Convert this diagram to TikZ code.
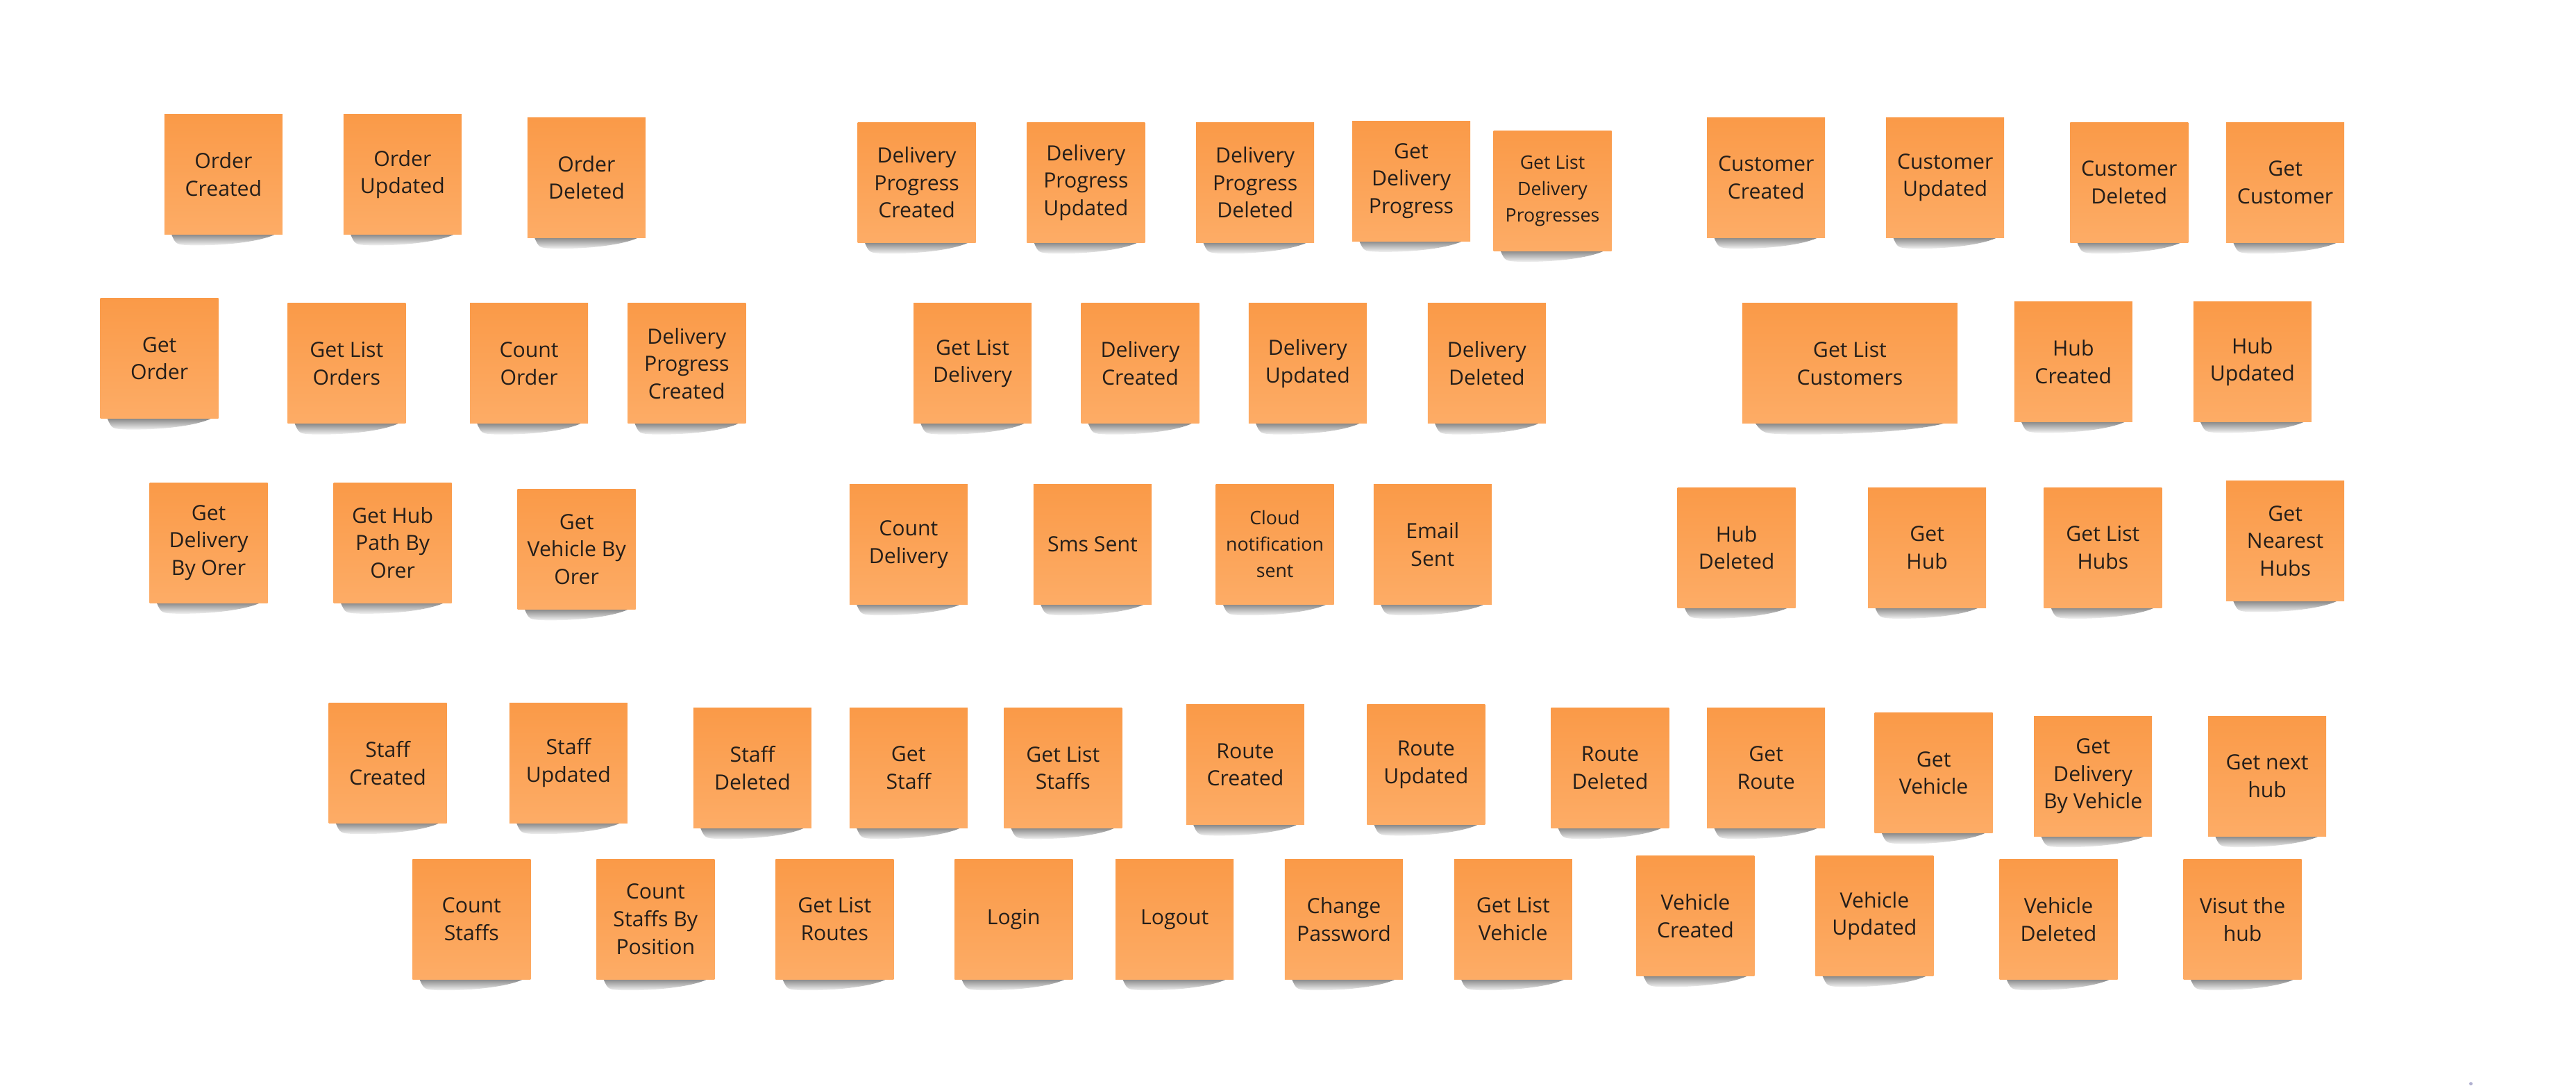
\documentclass[tikz,border=0pt]{standalone}
\usepackage{fontspec}
\setmainfont{Open Sans}
\usetikzlibrary{backgrounds,calc}
\definecolor{notefill}{RGB}{250,154,72}
\definecolor{notelight}{RGB}{253,172,102}
\definecolor{notetext}{RGB}{36,30,26}
\definecolor{dotcol}{RGB}{176,176,208}
\tikzset{
  sticky/.style={minimum width=1.70cm, minimum height=1.73cm, inner sep=0pt,
    align=center, text=notetext, top color=notefill, bottom color=notelight,
    font=\fontsize{8.6}{11.3}\selectfont},
  widesticky/.style={sticky, minimum width=3.10cm},
  smalltext/.style={font=\fontsize{7.6}{10.8}\selectfont},
  noteshadow/.style={top color=black!50, bottom color=black!3},
}
\begin{document}
\begin{tikzpicture}[x=0.023667cm, y=-0.023682cm]
\useasboundingbox (0,0) rectangle (1568,660);

% --- row 1 ---
\node[sticky] (ordc) at (136,106) {Order\\Created};
\node[sticky] (ordu) at (245,106) {Order\\Updated};
\node[sticky] (ordd) at (357,108) {Order\\Deleted};
\node[sticky] (dpc)  at (558,111) {Delivery\\Progress\\Created};
\node[sticky] (dpu)  at (661,111) {Delivery\\Progress\\Updated};
\node[sticky] (dpd)  at (764,111) {Delivery\\Progress\\Deleted};
\node[sticky] (gdp)  at (859,110) {Get\\Delivery\\Progress};
\node[sticky,smalltext] (gldp) at (945,116) {Get List\\Delivery\\Progresses};
\node[sticky] (cusc) at (1075,108) {Customer\\Created};
\node[sticky] (cusu) at (1184,108) {Customer\\Updated};
\node[sticky] (cusd) at (1296,111) {Customer\\Deleted};
\node[sticky] (gcus) at (1391,111) {Get\\Customer};

% --- row 2 ---
\node[sticky] (gord) at (97,218)  {Get\\Order};
\node[sticky] (glo)  at (211,221) {Get List\\Orders};
\node[sticky] (cord) at (322,221) {Count\\Order};
\node[sticky] (dpc2) at (418,221) {Delivery\\Progress\\Created};
\node[sticky] (gld)  at (592,221) {Get List\\Delivery};
\node[sticky] (delc) at (694,221) {Delivery\\Created};
\node[sticky] (delu) at (796,221) {Delivery\\Updated};
\node[sticky] (deld) at (905,221) {Delivery\\Deleted};
\node[widesticky] (glc) at (1126,221) {Get List\\Customers};
\node[sticky] (hubc) at (1262,220) {Hub\\Created};
\node[sticky] (hubu) at (1371,220) {Hub\\Updated};

% --- row 3 ---
\node[sticky] (gdbo) at (127,330) {Get\\Delivery\\By Orer};
\node[sticky] (ghpo) at (239,330) {Get Hub\\Path By\\Orer};
\node[sticky] (gvbo) at (351,334) {Get\\Vehicle By\\Orer};
\node[sticky] (cdel) at (553,331) {Count\\Delivery};
\node[sticky] (sms)  at (665,331) {Sms Sent};
\node[sticky,smalltext] (cns) at (776,331) {Cloud\\notification\\sent};
\node[sticky] (email) at (872,331) {Email\\Sent};
\node[sticky] (hubd) at (1057,333) {Hub\\Deleted};
\node[sticky] (ghub) at (1173,333) {Get\\Hub};
\node[sticky] (glh)  at (1280,333) {Get List\\Hubs};
\node[sticky] (gnh)  at (1391,329) {Get\\Nearest\\Hubs};

% --- row 4 ---
\node[sticky] (stc)  at (236,464) {Staff\\Created};
\node[sticky] (stu)  at (346,464) {Staff\\Updated};
\node[sticky] (std)  at (458,467) {Staff\\Deleted};
\node[sticky] (gst)  at (553,467) {Get\\Staff};
\node[sticky] (glst) at (647,467) {Get List\\Staffs};
\node[sticky] (roc)  at (758,465) {Route\\Created};
\node[sticky] (rou)  at (868,465) {Route\\Updated};
\node[sticky] (rod)  at (980,467) {Route\\Deleted};
\node[sticky] (gro)  at (1075,467) {Get\\Route};
\node[sticky] (gveh) at (1177,470) {Get\\Vehicle};
\node[sticky] (gdbv) at (1274,472) {Get\\Delivery\\By Vehicle};
\node[sticky] (gnxt) at (1380,472) {Get next\\hub};

% --- row 5 ---
\node[sticky] (cst)  at (287,559) {Count\\Staffs};
\node[sticky] (cstp) at (399,559) {Count\\Staffs By\\Position};
\node[sticky] (glr)  at (508,559) {Get List\\Routes};
\node[sticky] (login) at (617,559) {Login};
\node[sticky] (logout) at (715,559) {Logout};
\node[sticky] (chpw) at (818,559) {Change\\Password};
\node[sticky] (glv)  at (921,559) {Get List\\Vehicle};
\node[sticky] (vehc) at (1032,557) {Vehicle\\Created};
\node[sticky] (vehu) at (1141,557) {Vehicle\\Updated};
\node[sticky] (vehd) at (1253,559) {Vehicle\\Deleted};
\node[sticky] (visit) at (1365,559) {Visut the\\hub};

% soft shadows under the bottom edge of every note
\begin{scope}[on background layer]
\foreach \n in {ordc,ordu,ordd,dpc,dpu,dpd,gdp,gldp,cusc,cusu,cusd,gcus,
  gord,glo,cord,dpc2,gld,delc,delu,deld,glc,hubc,hubu,
  gdbo,ghpo,gvbo,cdel,sms,cns,email,hubd,ghub,glh,gnh,
  stc,stu,std,gst,glst,roc,rou,rod,gro,gveh,gdbv,gnxt,
  cst,cstp,glr,login,logout,chpw,glv,vehc,vehu,vehd,visit}{
  \shade[noteshadow]
    ($(\n.south west)!0.06!(\n.south east)+(0,0.02cm)$)
    -- ($(\n.south west)!0.95!(\n.south east)+(0,0.02cm)$)
    .. controls ($(\n.south west)!0.82!(\n.south east)+(0,-0.10cm)$)
       and ($(\n.south west)!0.50!(\n.south east)+(0,-0.16cm)$)
    .. ($(\n.south west)!0.22!(\n.south east)+(0,-0.15cm)$)
    .. controls ($(\n.south west)!0.10!(\n.south east)+(0,-0.14cm)$)
    .. cycle;
}
\end{scope}

% small mark near the lower right corner
\fill[dotcol] (1504,659) circle (0.025cm);
\end{tikzpicture}
\end{document}
